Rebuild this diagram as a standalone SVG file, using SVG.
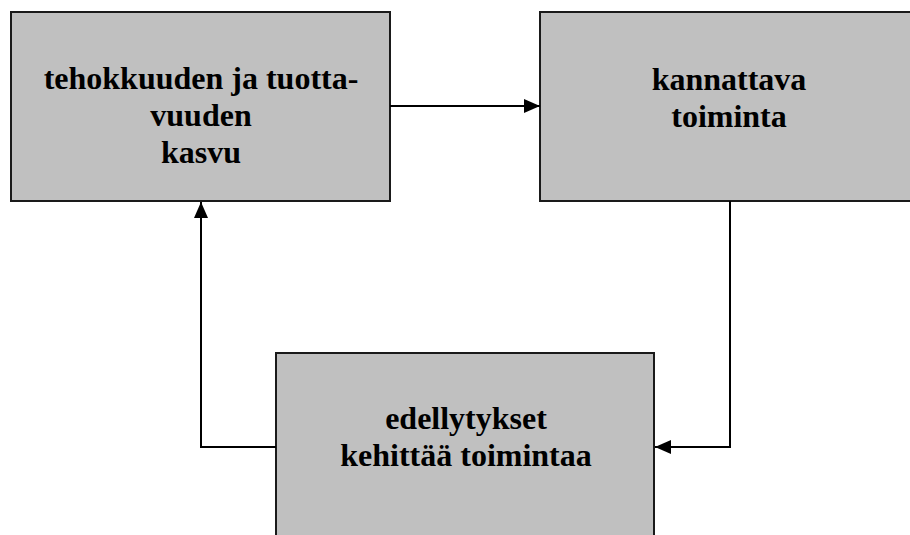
<svg xmlns="http://www.w3.org/2000/svg" width="910" height="535" viewBox="0 0 910 535">
<defs>
<style>
.box{fill:#c0c0c0;stroke:#1a1a1a;stroke-width:2}
.lbl{font-family:'Liberation Serif','Times New Roman',serif;font-weight:bold;font-size:32px;fill:#000;text-anchor:middle}
.con{fill:none;stroke:#000;stroke-width:2}
</style>
<marker id="arr" viewBox="0 0 16 14" refX="16" refY="7" markerWidth="16" markerHeight="14" markerUnits="userSpaceOnUse" orient="auto">
<path d="M0,0 L16,7 L0,14 Z" fill="#000"/>
</marker>
</defs>
<rect width="910" height="535" fill="#fff"/>
<g id="node-tehokkuus">
<rect class="box" x="11" y="12" width="379" height="189"/>
<text class="lbl" x="201" y="89">tehokkuuden ja tuotta-</text>
<text class="lbl" x="201" y="126">vuuden</text>
<text class="lbl" x="201" y="163">kasvu</text>
</g>
<g id="node-kannattava">
<rect class="box" x="540" y="12" width="380" height="189"/>
<text class="lbl" x="729" y="90">kannattava</text>
<text class="lbl" x="729" y="127">toiminta</text>
</g>
<g id="node-edellytykset">
<rect class="box" x="276" y="353" width="378" height="200"/>
<text class="lbl" x="466" y="429">edellytykset</text>
<text class="lbl" x="466" y="466">kehittää toimintaa</text>
</g>
<g id="connectors">
<line class="con" x1="390" y1="106" x2="540" y2="106" marker-end="url(#arr)"/>
<polyline class="con" points="730,201 730,447 655,447" marker-end="url(#arr)"/>
<polyline class="con" points="276,447 201,447 201,202" marker-end="url(#arr)"/>
</g>
</svg>
